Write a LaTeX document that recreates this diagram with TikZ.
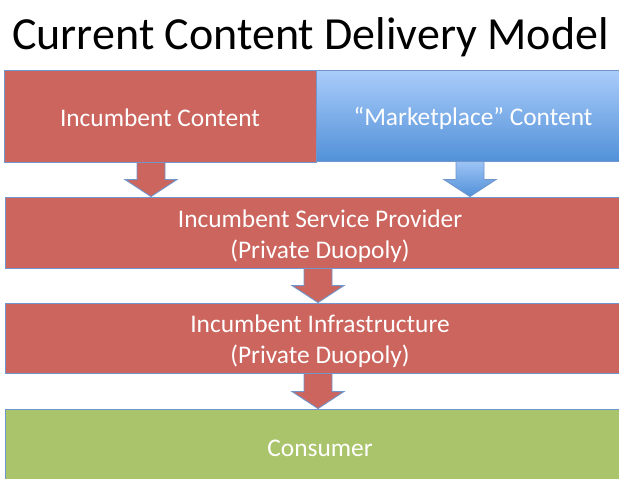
\documentclass[tikz,border=0pt]{standalone}
\usepackage{fontspec}
\setmainfont{Carlito}
\usetikzlibrary{calc}

\definecolor{boxred}{RGB}{203,101,94}
\definecolor{boxgreen}{RGB}{170,196,108}
\definecolor{blueTop}{RGB}{170,204,250}
\definecolor{blueBot}{RGB}{82,145,216}
\definecolor{edgeblue}{RGB}{112,150,205}

\tikzset{
  box/.style={draw=edgeblue, line width=0.9pt, inner sep=0pt, align=center,
              text=white, font=\fontsize{25.4}{31}\selectfont},
  redbox/.style={box, fill=boxred},
  greenbox/.style={box, fill=boxgreen},
  bluebox/.style={box, top color=blueTop, bottom color=blueBot},
  redarrow/.style={draw=edgeblue, line width=0.9pt, fill=boxred, line join=miter},
  bluearrow/.style={draw=edgeblue, line width=0.9pt, top color=blueTop!85!blueBot,
                    bottom color=blueBot, line join=miter},
}

% label text, its middle set about 4pt below the box centre
\newcommand\boxtext[1]{\raisebox{-10.4pt}[0pt][0pt]{\begin{tabular}{@{}c@{}}#1\end{tabular}}}

% block arrow from #2 (tail) to #3 (tip)
\newcommand\blockarrow[3][]{%
  \path[#1] let \p1=#2, \p2=#3 in
    (\x1-14pt,\y1) -- (\x1+14pt,\y1) -- (\x1+14pt,\y2+17pt) -- (\x1+26pt,\y2+17pt)
    -- (\x2,\y2) -- (\x1-26pt,\y2+17pt) -- (\x1-14pt,\y2+17pt) -- cycle;}

\begin{document}
\begin{tikzpicture}[x=1pt, y=-1pt]
  \useasboundingbox (0,0) rectangle (619,479);
  \clip (0,0) rectangle (619,479);
  \fill[white] (0,0) rectangle (619,479);

  \node[anchor=base west, font=\fontsize{46}{55}\selectfont, inner sep=0pt]
    (title) at (12,49) {Current Content Delivery Model};

  \node[redbox, minimum width=312pt, minimum height=92pt] (ic) at (160,116)
    {\boxtext{Incumbent Content}};
  \node[bluebox, minimum width=314pt, minimum height=91pt] (mc) at (473,115.5)
    {\boxtext{“Marketplace” Content}};
  \node[redbox, minimum width=630pt, minimum height=71pt] (isp) at (320,232.5)
    {\boxtext{Incumbent Service Provider\\(Private Duopoly)}};
  \node[redbox, minimum width=630pt, minimum height=70pt] (inf) at (320,338)
    {\boxtext{Incumbent Infrastructure\\(Private Duopoly)}};
  \node[greenbox, minimum width=630pt, minimum height=74pt] (con) at (320,446)
    {\boxtext{Consumer}};

  \coordinate (a1) at (151,0);
  \coordinate (a2) at (470,0);
  \coordinate (a3) at (318,0);

  \blockarrow[redarrow]{(ic.south -| a1)}{(isp.north -| a1)}
  \blockarrow[bluearrow]{(mc.south -| a2)}{(isp.north -| a2)}
  \blockarrow[redarrow]{(isp.south -| a3)}{(inf.north -| a3)}
  \blockarrow[redarrow]{(inf.south -| a3)}{(con.north -| a3)}
\end{tikzpicture}
\end{document}
